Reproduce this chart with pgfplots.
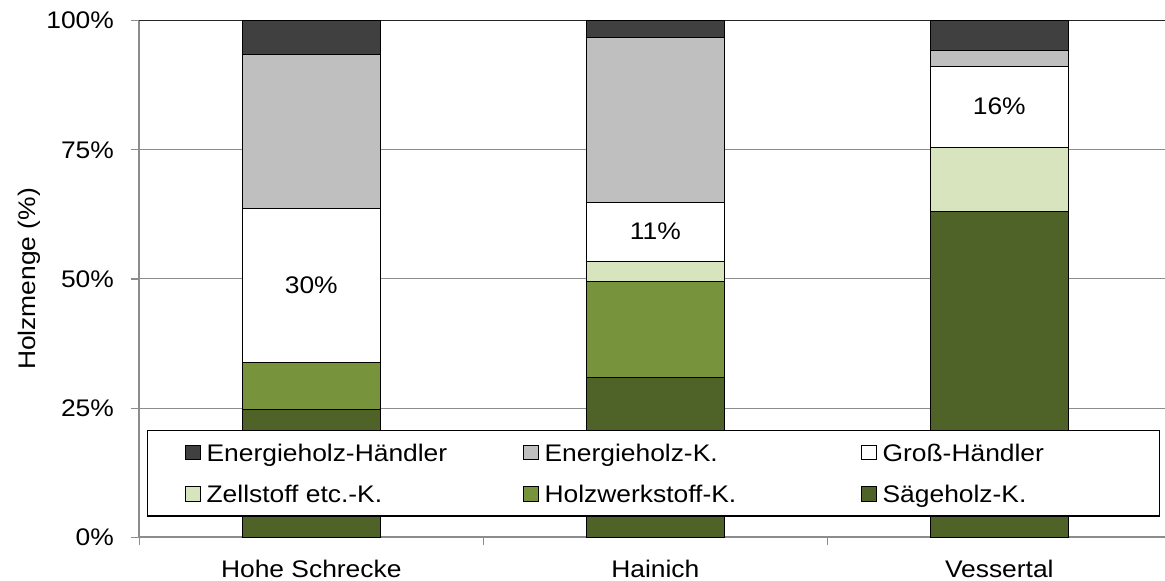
\documentclass[border=0pt]{standalone}
\usepackage{fontspec}
\setmainfont{Liberation Sans}[FakeStretch=1.1]
\usepackage{pgfplots}
\pgfplotsset{compat=1.18}
\definecolor{cEH}{HTML}{404040}
\definecolor{cEK}{HTML}{BFBFBF}
\definecolor{cGH}{HTML}{FFFFFF}
\definecolor{cZS}{HTML}{D7E4BD}
\definecolor{cHW}{HTML}{77933C}
\definecolor{cSH}{HTML}{4F6228}
\definecolor{gridc}{HTML}{8C8C8C}
\newcommand\lent[1]{\makebox[117pt][l]{#1}}
\pgfplotsset{sq/.style={legend image code/.code={\draw[##1,draw=black,line width=0.5pt] (0pt,0.6pt) rectangle (7.35pt,7.95pt);}}}
\begin{document}
\fontsize{12}{14}\selectfont
\begin{tikzpicture}
\begin{axis}[
  scale only axis, width=516pt, height=258.3pt,
  ybar stacked, bar width=0.4,
  xmin=-0.5, xmax=2.5, ymin=0, ymax=100,
  axis x line*=bottom, axis y line*=left,
  axis line style={draw=gridc, line width=0.8pt, -},
  tick align=outside, major tick length=4pt,
  tick style={draw=gridc, line width=0.6pt},
  xtick={0,1,2}, xticklabels={Hohe Schrecke,Hainich,Vessertal},
  xtick style={draw=none},
  xticklabel style={yshift=-3pt},
  extra x ticks={-0.5,0.5,1.5}, extra x tick labels={},
  extra x tick style={xtick style={draw=gridc, line width=0.6pt}, grid=none},
  ytick={0,25,50,75}, yticklabels={0\%,25\%,50\%,75\%},
  yticklabel style={xshift=-4.5pt},
  extra y ticks={100}, extra y tick labels={100\%},
  extra y tick style={major grid style={draw=black!85, line width=0.7pt}},
  ymajorgrids, major grid style={draw=gridc, line width=0.5pt},
  ylabel={Holzmenge (\%)},
  y label style={at={(axis description cs:-0.1069,0.5)}, anchor=center},
  /pgf/number format/assume math mode=true,
  every axis plot/.append style={draw=black, line width=0.5pt, sq},
  legend columns=3, reverse legend,
  legend style={at={(rel axis cs:0.00775,0.0399)}, anchor=south west,
    draw=black, line width=0.6pt, fill=white,
    inner xsep=18.5pt, inner ysep=3.7pt,
    cells={anchor=base west},
    nodes={inner xsep=3pt, inner ysep=0pt, text height=11.55pt, text depth=3pt},
    row sep=6.25pt,
    /tikz/every odd column/.append style={column sep=0pt},
    /tikz/every even column/.append style={column sep=38.15pt}},
]
\addplot[fill=cSH] coordinates {(0,24.8) (1,30.9) (2,63.1)};
\addlegendentry{\lent{Sägeholz-K.}}
\addplot[fill=cHW] coordinates {(0,9.0) (1,18.6) (2,0)};
\addlegendentry{\lent{Holzwerkstoff-K.}}
\addplot[fill=cZS] coordinates {(0,0) (1,3.9) (2,12.4)};
\addlegendentry{\lent{Zellstoff etc.-K.}}
\addplot[fill=cGH] coordinates {(0,29.9) (1,11.5) (2,15.7)};
\addlegendentry{\lent{Groß-Händler}}
\addplot[fill=cEK] coordinates {(0,29.8) (1,31.8) (2,3.1)};
\addlegendentry{\lent{Energieholz-K.}}
\addplot[fill=cEH] coordinates {(0,6.5) (1,3.3) (2,5.7)};
\addlegendentry{\lent{Energieholz-Händler}}
\coordinate (l1) at (axis cs:0,48.75);
\coordinate (l2) at (axis cs:1,59.15);
\coordinate (l3) at (axis cs:2,83.35);
\end{axis}
\node at (l1) {30\%};
\node at (l2) {11\%};
\node at (l3) {16\%};
\pgfresetboundingbox
\path ([shift={(-69.65pt,-21.85pt)}]current axis.south west) rectangle ([shift={(512.85pt,268.65pt)}]current axis.south west);
\end{tikzpicture}
\end{document}
